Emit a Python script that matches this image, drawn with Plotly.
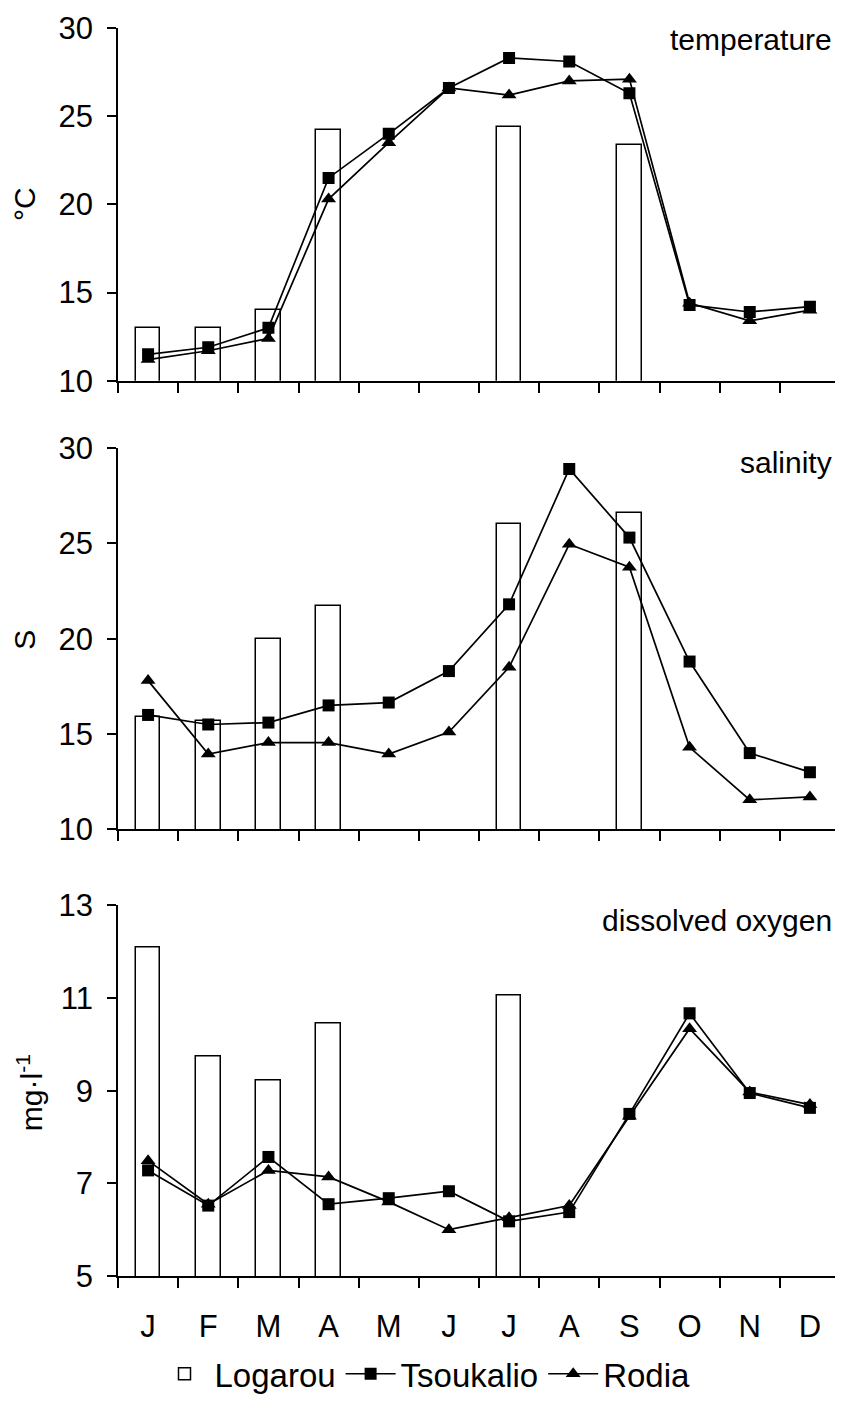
import plotly.graph_objects as go
from plotly.subplots import make_subplots

months = ["J", "F", "M", "A", "M", "J", "J", "A", "S", "O", "N", "D"]
xpos = list(range(12))

temp_logarou = [13.0, 13.0, 14.0, 24.2, None, None, 24.4, None, 23.35, None, None, None]
temp_tsoukalio = [11.5, 11.9, 13.0, 21.5, 24.0, 26.6, 28.3, 28.1, 26.3, 14.3, 13.9, 14.2]
temp_rodia = [11.2, 11.7, 12.4, 20.3, 23.5, 26.6, 26.2, 27.0, 27.1, 14.4, 13.4, 14.0]

sal_logarou = [15.9, 15.7, 20.0, 21.7, None, None, 26.0, None, 26.6, None, None, None]
sal_tsoukalio = [16.0, 15.5, 15.6, 16.5, 16.65, 18.3, 21.8, 28.9, 25.3, 18.8, 14.0, 13.0]
sal_rodia = [17.8, 13.95, 14.55, 14.55, 13.95, 15.1, 18.5, 24.95, 23.75, 14.3, 11.55, 11.7]

oxy_logarou = [12.1, 9.75, 9.22, 10.46, None, None, 11.05, None, None, None, None, None]
oxy_tsoukalio = [7.28, 6.52, 7.57, 6.55, 6.68, 6.83, 6.18, 6.38, 8.50, 10.67, 8.95, 8.63]
oxy_rodia = [7.49, 6.55, 7.28, 7.14, 6.6, 6.0, 6.26, 6.52, 8.45, 10.34, 8.97, 8.70]

panels = [
    ("temperature", "°C", temp_logarou, temp_tsoukalio, temp_rodia, [10, 30], [10, 15, 20, 25, 30]),
    ("salinity", "S", sal_logarou, sal_tsoukalio, sal_rodia, [10, 30], [10, 15, 20, 25, 30]),
    ("dissolved oxygen", "mg·l<sup>-1</sup>", oxy_logarou, oxy_tsoukalio, oxy_rodia, [5, 13], [5, 7, 9, 11, 13]),
]

FONT = "Liberation Sans, Arial, sans-serif"
OFF = 8  # page body margin offset
W, H = 843 - OFF, 1405 - OFF
ML = 118 - OFF
MR = 3
MT = 19 - OFF
MB = H - (1282 - OFF)
plot_h = H - MT - MB
plot_w = W - ML - MR


def fy(py):
    # py: pixel y in reference frame
    return (H - MB - (py - OFF)) / plot_h


def fx(px):
    return (px - OFF - ML) / plot_w


domains = [[fy(376), fy(19)], [fy(830), fy(444)], [fy(1282), fy(907)]]

fig = make_subplots(rows=3, cols=1)

for i, (title, ytitle, logarou, tsouk, rodia, yr, yt) in enumerate(panels):
    r = i + 1
    first = i == 0
    fig.add_trace(go.Bar(x=xpos, y=logarou, name="Logarou", width=0.41,
                         marker=dict(color="white", line=dict(color="black", width=1.5)),
                         showlegend=first, legendgroup="l"), row=r, col=1)
    fig.add_trace(go.Scatter(x=xpos, y=tsouk, name="Tsoukalio", mode="lines+markers",
                             line=dict(color="black", width=1.7),
                             marker=dict(symbol="square", size=12, color="black"),
                             showlegend=first, legendgroup="t"), row=r, col=1)
    fig.add_trace(go.Scatter(x=xpos, y=rodia, name="Rodia", mode="lines+markers",
                             line=dict(color="black", width=1.7),
                             marker=dict(symbol="triangle-up", size=13, color="black"),
                             showlegend=first, legendgroup="r"), row=r, col=1)

    ax = "xaxis" if r == 1 else f"xaxis{r}"
    ay = "yaxis" if r == 1 else f"yaxis{r}"
    fig.layout[ax].update(
        domain=[0, 1], range=[-0.5, 11.5], showline=True, linecolor="black", linewidth=1.5,
        showgrid=False, zeroline=False, ticks="", tickvals=xpos, ticktext=months,
        showticklabels=(r == 3), tickfont=dict(size=31, color="black", family=FONT),
        ticklabelstandoff=22,
        minor=dict(ticks="outside", ticklen=10, tickwidth=1.5, tickcolor="black",
                   tickmode="array", tickvals=[k - 0.5 for k in range(13)]),
    )
    fig.layout[ay].update(
        domain=domains[i], range=yr, tickvals=yt, showline=True, linecolor="black",
        linewidth=1.5, ticks="outside", ticklen=9, tickwidth=1.5, tickcolor="black",
        showgrid=False, zeroline=False, tickfont=dict(size=31, color="black", family=FONT),
        ticklabelstandoff=8,
    )

centers_title = [fy(31), fy(459), fy(922)]
centers_ytitle = [fy(197), fy(638), fy(1097)]
ytitle_x = [fx(25), fx(25), fx(30)]
for i, (title, ytitle, *_rest) in enumerate(panels):
    fig.add_annotation(text=title, xref="paper", yref="paper", x=fx(834),
                       y=centers_title[i], xanchor="right", yanchor="middle", showarrow=False,
                       font=dict(size=30, color="black", family=FONT))
    fig.add_annotation(text=ytitle, xref="paper", yref="paper", x=ytitle_x[i],
                       y=centers_ytitle[i], xanchor="center", yanchor="middle", showarrow=False,
                       textangle=-90, font=dict(size=30, color="black", family=FONT))

fig.update_layout(
    width=W, height=H, margin=dict(l=ML, r=MR, t=MT, b=MB),
    plot_bgcolor="white", paper_bgcolor="white", bargap=0,
    font=dict(family=FONT, color="black"),
    legend=dict(orientation="h", x=fx(425), xanchor="center", y=fy(1381), yanchor="middle",
                font=dict(size=33, color="black", family=FONT), itemwidth=50,
                traceorder="normal"),
)

fig.write_html("out.html")
